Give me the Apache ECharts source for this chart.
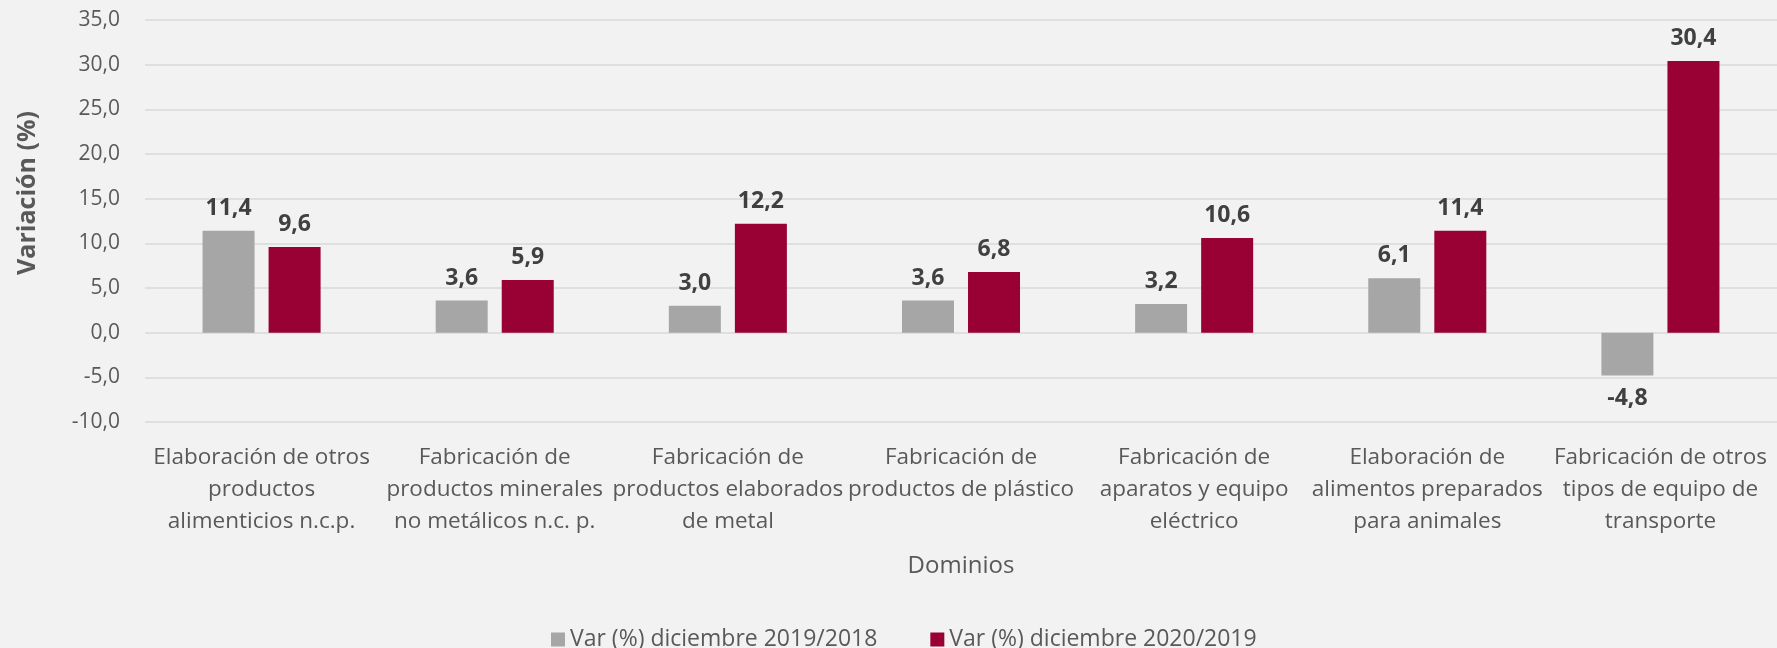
<!DOCTYPE html>
<html>
<head>
<meta charset="utf-8">
<script src="https://cdn.jsdelivr.net/npm/echarts@6/dist/echarts.min.js"></script>
<style>
    html, body { margin: 0; padding: 0; background: #f2f2f2; }
    #chart { width: 1777px; height: 648px; }
</style>
</head>
<body>
<div id="chart"></div>
<script>
// categorias (dominios), con los saltos de linea del original
var categorias = [
    'Elaboración de otros\nproductos\nalimenticios n.c.p.',
    'Fabricación de\nproductos minerales\nno metálicos n.c. p.',
    'Fabricación de\nproductos elaborados\nde metal',
    'Fabricación de\nproductos de plástico',
    'Fabricación de\naparatos y equipo\neléctrico',
    'Elaboración de\nalimentos preparados\npara animales',
    'Fabricación de otros\ntipos de equipo de\ntransporte'
];
var var2019 = [11.4, 3.6, 3.0, 3.6, 3.2, 6.1, -4.8];
var var2020 = [9.6, 5.9, 12.2, 6.8, 10.6, 11.4, 30.4];
var nombres = ['Var (%) diciembre 2019/2018', 'Var (%) diciembre 2020/2019'];

var fuente = '"Open Sans", "Noto Sans", sans-serif';

function coma(v) {
    return v.toFixed(1).replace('.', ',');
}

// las barras negativas llevan la etiqueta debajo
function conEtiquetas(valores) {
    return valores.map(function (v) {
        return {
            value: v,
            label: {position: v < 0 ? 'bottom' : 'top'}
        };
    });
}

var etiqueta = {
    show: true,
    distance: 11,
    fontFamily: fuente,
    fontSize: 23,
    fontWeight: 'bold',
    color: '#404040',
    formatter: function (p) {
        return coma(p.value);
    }
};

var myChart = echarts.init(document.getElementById('chart'));
var option = {
    backgroundColor: '#f2f2f2',
    animation: false,
    textStyle: {fontFamily: fuente},
    grid: {left: 145, right: 0, top: 20, bottom: 226},
    legend: {
        left: 546,
        top: 623,
        itemWidth: 14,
        itemHeight: 14,
        itemGap: 53,
        icon: 'rect',
        textStyle: {fontFamily: fuente, fontSize: 23, color: '#595959'},
        data: nombres
    },
    xAxis: {
        type: 'category',
        data: categorias,
        name: 'Dominios',
        nameLocation: 'middle',
        nameGap: 132,
        nameTextStyle: {fontFamily: fuente, fontSize: 24, color: '#595959'},
        axisLine: {show: false},
        axisTick: {show: false},
        axisLabel: {
            interval: 0,
            margin: 20,
            fontFamily: fuente,
            fontSize: 22.5,
            lineHeight: 32,
            color: '#595959'
        }
    },
    yAxis: {
        type: 'value',
        min: -10,
        max: 35,
        interval: 5,
        name: 'Variación (%)',
        nameLocation: 'middle',
        nameGap: 105,
        nameTextStyle: {
            fontFamily: fuente,
            fontSize: 25,
            fontWeight: 'bold',
            color: '#595959',
            padding: [0, 0, 0, 56]
        },
        axisLabel: {
            margin: 25,
            fontFamily: fuente,
            fontSize: 21,
            color: '#595959',
            formatter: coma
        },
        splitLine: {lineStyle: {color: '#d9d9d9', width: 1.5}}
    },
    series: [
        {
            name: nombres[0],
            type: 'bar',
            barWidth: 52,
            barGap: '27%',
            itemStyle: {color: '#a6a6a6'},
            label: etiqueta,
            data: conEtiquetas(var2019)
        },
        {
            name: nombres[1],
            type: 'bar',
            barWidth: 52,
            barGap: '27%',
            itemStyle: {color: '#990033'},
            label: etiqueta,
            data: conEtiquetas(var2020)
        }
    ]
};
myChart.setOption(option);
</script>
</body>
</html>
